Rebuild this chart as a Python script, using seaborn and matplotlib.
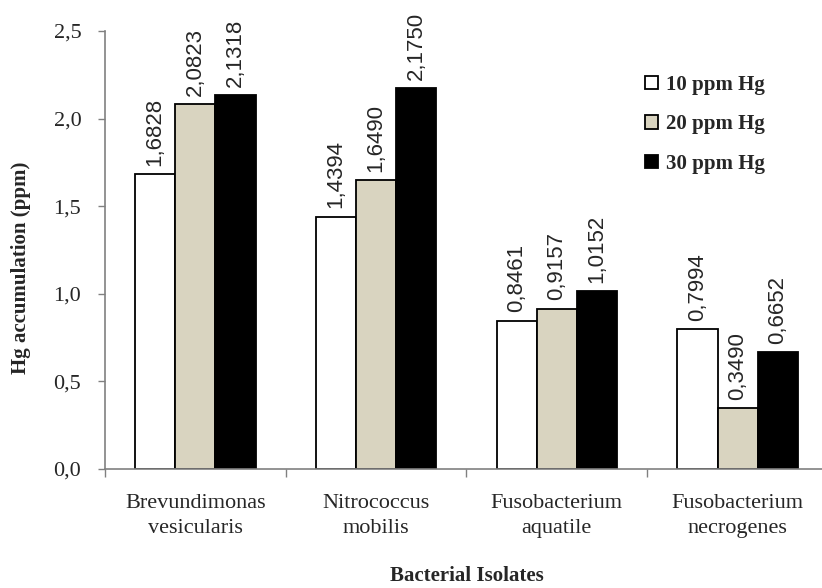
import numpy as np
import pandas as pd
import seaborn as sns
import matplotlib.pyplot as plt

# values
isolates = ['Brevundimonas\nvesicularis', 'Nitrococcus\nmobilis',
            'Fusobacterium\naquatile', 'Fusobacterium\nnecrogenes']
doses = ['10 ppm Hg', '20 ppm Hg', '30 ppm Hg']
hg_10 = [1.6828, 1.4394, 0.8461, 0.7994]
hg_20 = [2.0823, 1.6490, 0.9157, 0.3490]
hg_30 = [2.1318, 2.1750, 1.0152, 0.6652]
y_ticks = [0.0, 0.5, 1.0, 1.5, 2.0, 2.5]

df = pd.DataFrame({
    'isolate': isolates * 3,
    'dose': np.repeat(doses, len(isolates)),
    'hg': hg_10 + hg_20 + hg_30,
})

sns.set_style('white')
plt.rcParams['font.family'] = ['Liberation Serif', 'DejaVu Serif']

fig = plt.figure(figsize=(8.22, 5.88), dpi=100)
ax = fig.add_axes([0.1277, 0.2024, 0.8796, 0.745])

palette = ['#ffffff', '#d9d4c0', '#000000']
sns.barplot(data=df, x='isolate', y='hg', hue='dose', order=isolates,
            hue_order=doses, palette=palette, width=0.667, gap=0,
            edgecolor='black', linewidth=1.3, saturation=1, ax=ax)

for cont in ax.containers:
    vals = cont.datavalues
    ax.bar_label(cont, labels=[f'{v:.4f}'.replace('.', ',') for v in vals],
                 rotation=90, padding=6, fontsize=16,
                 family=['Liberation Sans', 'DejaVu Sans'])

ax.set_xlim(-0.5, 3.5)
ax.set_ylim(0, 2.5)
ax.set_yticks(y_ticks)
ax.set_yticklabels([f'{t:.1f}'.replace('.', ',') for t in y_ticks], fontsize=16)
ax.tick_params(axis='y', left=True, length=5, width=1, color='#808080', pad=12)

# category labels without ticks, ticks drawn on the boundaries
ax.set_xticks(range(len(isolates)))
ax.set_xticklabels(isolates, fontsize=16, linespacing=1.45)
ax.tick_params(axis='x', which='major', length=0, pad=18)
ax.set_xticks(np.arange(-0.5, 4.0, 1.0), minor=True)
ax.tick_params(axis='x', which='minor', bottom=True, length=6, width=1,
               color='#808080')

for s in ['top', 'right']:
    ax.spines[s].set_visible(False)
for s in ['left', 'bottom']:
    ax.spines[s].set_color('#808080')
    ax.spines[s].set_linewidth(1.2)

ax.set_xlabel('Bacterial Isolates', fontsize=15, fontweight='bold', labelpad=20)
ax.set_ylabel('Hg accumulation (ppm)', fontsize=15, fontweight='bold')
ax.yaxis.set_label_coords(-0.102, 0.46)

handles, labels = ax.get_legend_handles_labels()
ax.legend(handles, labels, loc='upper left', bbox_to_anchor=(0.762, 0.905),
          bbox_transform=fig.transFigure, frameon=False,
          prop={'weight': 'bold', 'size': 15}, handlelength=0.6,
          handleheight=0.6, handletextpad=0.4, labelspacing=0.95)

fig.savefig('out.png', dpi=100)
